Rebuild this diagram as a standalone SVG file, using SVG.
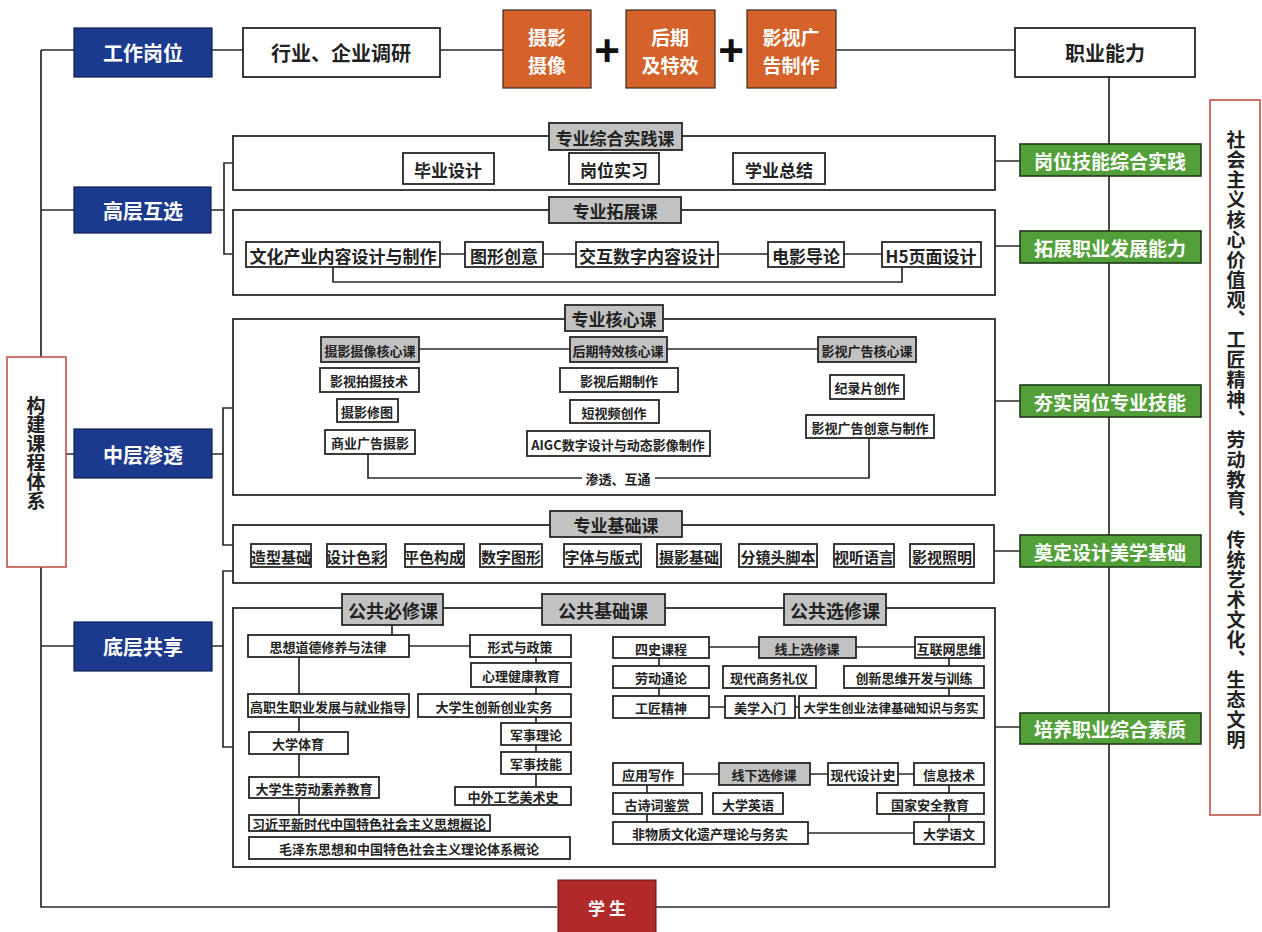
<svg xmlns="http://www.w3.org/2000/svg" width="1262" height="932" viewBox="0 0 1262 932">
<style>
.ln{stroke:#2a2a2a;stroke-width:1.7;fill:none}
.ct{fill:none;stroke:#2a2a2a;stroke-width:1.8}
.bx{fill:#fff;stroke:#262626;stroke-width:1.8}
.hd{fill:#c2c2c2;stroke:#262626;stroke-width:1.8}
.bl{fill:#1b3a8e;stroke:#0f1f55;stroke-width:1.2}
.og{fill:#d4622a;stroke:#3a2a20;stroke-width:1.2}
.gn{fill:#53a03b;stroke:#1f3a17;stroke-width:1.6}
.rd{fill:#b02a2a;stroke:#5a1515;stroke-width:1}
.rb{fill:#fff;stroke:#c0504d;stroke-width:1.6}
text{font-family:"Noto Sans CJK SC","Noto Sans",sans-serif;text-anchor:middle;dominant-baseline:central;font-weight:700;fill:#222}
.vt{writing-mode:vertical-rl;font-size:19px}
.w{fill:#fff}
.f20{font-size:20px}
.f19{font-size:19px}
.f18{font-size:18px}
.f17{font-size:17px}
.f15{font-size:15px}
.f13{font-size:13px}
.f12{font-size:12.5px}
.plus{font-family:"Liberation Sans",sans-serif;font-size:44px;fill:#111}
</style>
<rect width="1262" height="932" fill="#fff"/>

<!-- containers -->
<g id="containers">
<rect class="ct" x="233" y="136" width="762" height="54"/>
<rect class="ct" x="233" y="210" width="762" height="85"/>
<rect class="ct" x="233" y="319" width="762" height="176"/>
<rect class="ct" x="233" y="525" width="761" height="58"/>
<rect class="ct" x="233" y="608" width="762" height="259"/>
</g>

<g id="connectors">
<path class="ln" d="M41,50 H74 M41,50 V907 H557 M41,210 H74 M66,454 H74 M41,646 H74"/>
<path class="ln" d="M212,50 H243 M440,50 H503 M836,50 H1015"/>
<path class="ln" d="M1109,77 V907 H655"/>
<path class="ln" d="M995,161 H1020 M995,246 H1020 M995,401 H1020 M994,551 H1020 M995,727 H1020"/>
<path class="ln" d="M211,210 H224 M233,163 H224 V254 H233"/>
<path class="ln" d="M212,454 H223 M233,408 H223 V545 H233"/>
<path class="ln" d="M212,646 H223 M233,571 H223 V747 H233"/>
<path class="ln" d="M440,254 H465 M543,254 H576 M718,254 H768 M844,254 H882 M333,267 V282 H902 V267"/>
<path class="ln" d="M419,349 H570 M667,349 H818 M368,454 V478 H582 M655,478 H869 V438"/>
<path class="ln" d="M392,625 V635 M409,646 H470 M536,657 V787 M299,657 V815"/>
<path class="ln" d="M709,647 H759 M856,647 H915 M659,658 V718 M949,658 V718 M709,707 H725 M795,707 H799"/>
<path class="ln" d="M683,774 H719 M810,774 H828 M898,774 H914 M647,785 V833 M808,833 H914 M949,785 V833"/>
</g>

<!-- top row -->
<g id="n-gzgw"><rect class="bl" x="74" y="28" width="138" height="49"/><text class="w f20" x="143" y="52">工作岗位</text></g>
<g id="n-hydy"><rect class="bx" x="243" y="28" width="197" height="49"/><text class="f20" x="341" y="52">行业、企业调研</text></g>
<g id="n-sy"><rect class="og" x="503" y="10" width="88" height="78"/><text class="w f19" x="547" y="36"><tspan x="547" y="36">摄影</tspan><tspan x="547" y="64">摄像</tspan></text></g>
<text class="plus" x="607" y="50">+</text>
<g id="n-hq"><rect class="og" x="626" y="10" width="89" height="78"/><text class="w f19" x="670" y="36"><tspan x="670" y="36">后期</tspan><tspan x="670" y="64">及特效</tspan></text></g>
<text class="plus" x="731" y="50">+</text>
<g id="n-ys"><rect class="og" x="747" y="10" width="89" height="78"/><text class="w f19" x="791" y="36"><tspan x="791" y="36">影视广</tspan><tspan x="791" y="64">告制作</tspan></text></g>
<g id="n-zynl"><rect class="bx" x="1015" y="28" width="180" height="49"/><text class="f20" x="1105" y="52">职业能力</text></g>

<!-- left -->
<g id="n-gjkc"><rect class="rb" x="7" y="357" width="59" height="210"/>
<text class="vt" x="36" y="453">构建课程体系</text></g>
<g id="n-gchx"><rect class="bl" x="74" y="187" width="137" height="46"/><text class="w f20" x="143" y="210">高层互选</text></g>
<g id="n-zcst"><rect class="bl" x="74" y="429" width="138" height="49"/><text class="w f20" x="143" y="454">中层渗透</text></g>
<g id="n-dcgx"><rect class="bl" x="74" y="622" width="138" height="49"/><text class="w f20" x="143" y="646">底层共享</text></g>

<!-- right -->
<g id="n-shzy"><rect class="rb" x="1210" y="100" width="50" height="715"/>
<text class="vt" x="1236" y="440" style="letter-spacing:1px">社会主义核心价值观、工匠精神、劳动教育、传统艺术文化、生态文明</text></g>
<g id="n-g1"><rect class="gn" x="1020" y="144" width="181" height="32"/><text class="w f19" x="1110" y="160">岗位技能综合实践</text></g>
<g id="n-g2"><rect class="gn" x="1020" y="231" width="181" height="32"/><text class="w f19" x="1110" y="247">拓展职业发展能力</text></g>
<g id="n-g3"><rect class="gn" x="1020" y="385" width="181" height="32"/><text class="w f19" x="1110" y="401">夯实岗位专业技能</text></g>
<g id="n-g4"><rect class="gn" x="1020" y="535" width="181" height="32"/><text class="w f19" x="1110" y="551">奠定设计美学基础</text></g>
<g id="n-g5"><rect class="gn" x="1020" y="713" width="181" height="31"/><text class="w f19" x="1110" y="728">培养职业综合素质</text></g>
<g id="n-xs"><rect class="rd" x="558" y="880" width="98" height="54"/><text class="w f17" x="607" y="907">学 生</text></g>

<!-- 专业综合实践课 -->
<g id="n-zhsj"><rect class="hd" x="549" y="123" width="133" height="27"/><text class="f17" x="615" y="137">专业综合实践课</text></g>
<g id="n-bysj"><rect class="bx" x="403" y="153" width="91" height="31"/><text class="f17" x="448" y="169">毕业设计</text></g>
<g id="n-gwsx"><rect class="bx" x="569" y="153" width="90" height="31"/><text class="f17" x="614" y="169">岗位实习</text></g>
<g id="n-xyzj"><rect class="bx" x="733" y="153" width="92" height="31"/><text class="f17" x="779" y="169">学业总结</text></g>

<!-- 专业拓展课 -->
<g id="n-tzk"><rect class="hd" x="549" y="197" width="132" height="26"/><text class="f17" x="615" y="210">专业拓展课</text></g>
<g id="n-whcy"><rect class="bx" x="246" y="242" width="194" height="25"/><text class="f17" x="343" y="255">文化产业内容设计与制作</text></g>
<g id="n-txcy"><rect class="bx" x="465" y="242" width="78" height="25"/><text class="f17" x="504" y="255">图形创意</text></g>
<g id="n-jhsz"><rect class="bx" x="576" y="242" width="142" height="25"/><text class="f17" x="647" y="255">交互数字内容设计</text></g>
<g id="n-dydl"><rect class="bx" x="768" y="242" width="76" height="25"/><text class="f17" x="806" y="255">电影导论</text></g>
<g id="n-h5"><rect class="bx" x="882" y="242" width="99" height="25"/><text class="f17" x="931" y="255">H5页面设计</text></g>

<!-- 专业核心课 -->
<g id="n-hxk"><rect class="hd" x="565" y="305" width="98" height="26"/><text class="f17" x="614" y="318">专业核心课</text></g>
<g id="n-syhx"><rect class="hd" x="321" y="337" width="98" height="25"/><text class="f13" x="370" y="350">摄影摄像核心课</text></g>
<g id="n-hqhx"><rect class="hd" x="570" y="337" width="97" height="25"/><text class="f13" x="618" y="350">后期特效核心课</text></g>
<g id="n-yshx"><rect class="hd" x="818" y="337" width="98" height="25"/><text class="f13" x="867" y="350">影视广告核心课</text></g>
<g id="n-yspsjs"><rect class="bx" x="320" y="368" width="99" height="24"/><text class="f13" x="369" y="380">影视拍摄技术</text></g>
<g id="n-syxt"><rect class="bx" x="337" y="399" width="61" height="23"/><text class="f13" x="367" y="411">摄影修图</text></g>
<g id="n-syggsy"><rect class="bx" x="325" y="430" width="90" height="24"/><text class="f13" x="370" y="442">商业广告摄影</text></g>
<g id="n-yshqzz"><rect class="bx" x="560" y="368" width="118" height="24"/><text class="f13" x="619" y="380">影视后期制作</text></g>
<g id="n-dspcz"><rect class="bx" x="570" y="400" width="89" height="23"/><text class="f13" x="614" y="412">短视频创作</text></g>
<g id="n-aigc"><rect class="bx" x="527" y="431" width="183" height="25"/><text class="f13" x="618" y="444">AIGC数字设计与动态影像制作</text></g>
<g id="n-jlpcz"><rect class="bx" x="830" y="375" width="74" height="24"/><text class="f13" x="867" y="387">纪录片创作</text></g>
<g id="n-ysggcy"><rect class="bx" x="806" y="415" width="128" height="23"/><text class="f13" x="870" y="427">影视广告创意与制作</text></g>
<text id="l-st" class="f13" x="618" y="478">渗透、互通</text>

<!-- 专业基础课 -->
<g id="n-jck"><rect class="hd" x="550" y="511" width="132" height="26"/><text class="f17" x="616" y="524">专业基础课</text></g>
<g id="n-zxjc"><rect class="bx" x="251" y="544" width="60" height="23"/><text class="f15" x="281" y="556">造型基础</text></g>
<g id="n-sjsc"><rect class="bx" x="327" y="544" width="59" height="23"/><text class="f15" x="356" y="556">设计色彩</text></g>
<g id="n-psgc"><rect class="bx" x="405" y="544" width="59" height="23"/><text class="f15" x="434" y="556">平色构成</text></g>
<g id="n-sztx"><rect class="bx" x="480" y="544" width="62" height="23"/><text class="f15" x="511" y="556">数字图形</text></g>
<g id="n-ztbs"><rect class="bx" x="564" y="544" width="77" height="23"/><text class="f15" x="602" y="556">字体与版式</text></g>
<g id="n-syjc"><rect class="bx" x="657" y="544" width="64" height="23"/><text class="f15" x="689" y="556">摄影基础</text></g>
<g id="n-fjtjb"><rect class="bx" x="739" y="544" width="78" height="23"/><text class="f15" x="778" y="556">分镜头脚本</text></g>
<g id="n-styy"><rect class="bx" x="834" y="544" width="60" height="23"/><text class="f15" x="864" y="556">视听语言</text></g>
<g id="n-yszm"><rect class="bx" x="910" y="544" width="64" height="23"/><text class="f15" x="942" y="556">影视照明</text></g>

<!-- 公共基础课 -->
<g id="n-gbx"><rect class="hd" x="342" y="594" width="101" height="31"/><text class="f18" x="393" y="610">公共必修课</text></g>
<g id="n-gjc"><rect class="hd" x="542" y="594" width="123" height="31"/><text class="f18" x="603" y="610">公共基础课</text></g>
<g id="n-gxx"><rect class="hd" x="784" y="594" width="102" height="31"/><text class="f18" x="835" y="610">公共选修课</text></g>

<g id="n-sxdd"><rect class="bx" x="248" y="635" width="161" height="22"/><text class="f13" x="328" y="646">思想道德修养与法律</text></g>
<g id="n-xsyzc"><rect class="bx" x="470" y="635" width="101" height="22"/><text class="f13" x="520" y="646">形式与政策</text></g>
<g id="n-xljk"><rect class="bx" x="471" y="663" width="100" height="24"/><text class="f13" x="521" y="675">心理健康教育</text></g>
<g id="n-gzs"><rect class="bx" x="248" y="694" width="161" height="23"/><text class="f13" x="328" y="706">高职生职业发展与就业指导</text></g>
<g id="n-dxscx"><rect class="bx" x="418" y="694" width="153" height="23"/><text class="f13" x="494" y="706">大学生创新创业实务</text></g>
<g id="n-jsll"><rect class="bx" x="501" y="723" width="70" height="22"/><text class="f13" x="536" y="734">军事理论</text></g>
<g id="n-dxty"><rect class="bx" x="249" y="732" width="99" height="22"/><text class="f13" x="298" y="743">大学体育</text></g>
<g id="n-jsjn"><rect class="bx" x="501" y="752" width="70" height="22"/><text class="f13" x="536" y="763">军事技能</text></g>
<g id="n-ldsy"><rect class="bx" x="249" y="777" width="130" height="21"/><text class="f13" x="314" y="788">大学生劳动素养教育</text></g>
<g id="n-zwgy"><rect class="bx" x="455" y="787" width="116" height="18"/><text class="f13" x="513" y="796">中外工艺美术史</text></g>
<g id="n-xjp"><rect class="bx" x="249" y="815" width="241" height="16"/><text class="f13" x="369" y="823">习近平新时代中国特色社会主义思想概论</text></g>
<g id="n-mzd"><rect class="bx" x="249" y="837" width="321" height="22"/><text class="f13" x="409" y="848">毛泽东思想和中国特色社会主义理论体系概论</text></g>

<g id="n-sskc"><rect class="bx" x="613" y="637" width="96" height="21"/><text class="f13" x="661" y="648">四史课程</text></g>
<g id="n-xsxx"><rect class="hd" x="759" y="637" width="97" height="21"/><text class="f13" x="807" y="648">线上选修课</text></g>
<g id="n-hlw"><rect class="bx" x="915" y="637" width="69" height="21"/><text class="f13" x="949" y="648">互联网思维</text></g>
<g id="n-ldtl"><rect class="bx" x="613" y="666" width="96" height="22"/><text class="f13" x="661" y="677">劳动通论</text></g>
<g id="n-xdsw"><rect class="bx" x="723" y="666" width="93" height="22"/><text class="f13" x="769" y="677">现代商务礼仪</text></g>
<g id="n-cxsw"><rect class="bx" x="844" y="666" width="140" height="22"/><text class="f13" x="914" y="677">创新思维开发与训练</text></g>
<g id="n-gjjs"><rect class="bx" x="613" y="696" width="96" height="22"/><text class="f13" x="661" y="707">工匠精神</text></g>
<g id="n-mxrm"><rect class="bx" x="725" y="696" width="70" height="22"/><text class="f13" x="760" y="707">美学入门</text></g>
<g id="n-cyfl"><rect class="bx" x="799" y="696" width="185" height="22"/><text class="f12" x="891" y="707">大学生创业法律基础知识与务实</text></g>
<g id="n-yyxz"><rect class="bx" x="613" y="763" width="70" height="22"/><text class="f13" x="648" y="774">应用写作</text></g>
<g id="n-xxxx"><rect class="hd" x="719" y="763" width="91" height="22"/><text class="f13" x="764" y="774">线下选修课</text></g>
<g id="n-xdsjs"><rect class="bx" x="828" y="763" width="70" height="22"/><text class="f13" x="863" y="774">现代设计史</text></g>
<g id="n-xxjs"><rect class="bx" x="914" y="763" width="70" height="22"/><text class="f13" x="949" y="774">信息技术</text></g>
<g id="n-gscj"><rect class="bx" x="613" y="793" width="89" height="21"/><text class="f13" x="657" y="804">古诗词鉴赏</text></g>
<g id="n-dxyy"><rect class="bx" x="713" y="793" width="70" height="21"/><text class="f13" x="748" y="804">大学英语</text></g>
<g id="n-gjaq"><rect class="bx" x="877" y="793" width="107" height="21"/><text class="f13" x="930" y="804">国家安全教育</text></g>
<g id="n-fwz"><rect class="bx" x="613" y="822" width="195" height="22"/><text class="f13" x="710" y="833">非物质文化遗产理论与务实</text></g>
<g id="n-dxyw"><rect class="bx" x="914" y="822" width="70" height="22"/><text class="f13" x="949" y="833">大学语文</text></g>
</svg>
